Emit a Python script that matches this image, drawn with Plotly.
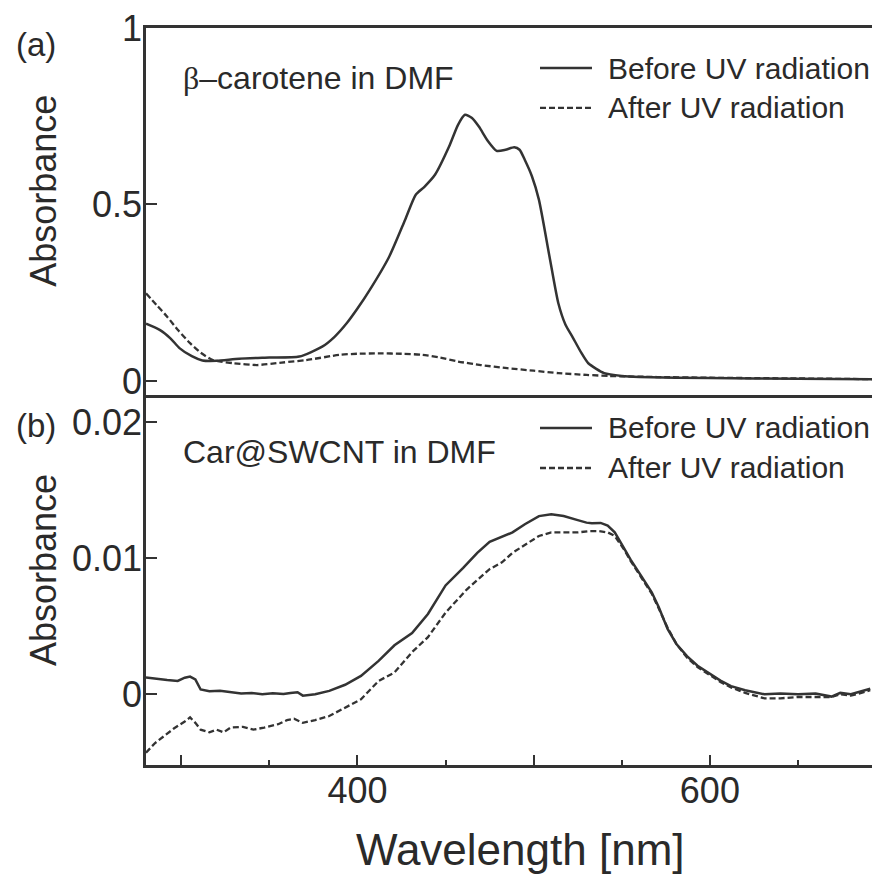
import plotly.graph_objects as go
from plotly.subplots import make_subplots

# ---- Panel (a): beta-carotene in DMF ----
a_before_nm = [280, 288, 294, 299, 306, 312, 320, 333, 350, 367, 380, 387, 394, 400, 407, 418, 427, 433, 438, 444,
               452, 457, 461, 465, 469, 474, 479, 484, 489, 492, 495, 499, 503, 509, 514, 518, 522, 527, 531, 540,
               550, 560, 600, 650, 692]
a_before_abs = [0.162, 0.144, 0.12, 0.093, 0.07, 0.058, 0.057, 0.063, 0.066, 0.069, 0.097, 0.125, 0.164, 0.205, 0.258,
                0.352, 0.456, 0.527, 0.55, 0.584, 0.664, 0.725, 0.754, 0.745, 0.72, 0.68, 0.652, 0.655, 0.662, 0.655,
                0.626, 0.58, 0.513, 0.352, 0.22, 0.16, 0.125, 0.08, 0.05, 0.022, 0.014, 0.011, 0.008, 0.006, 0.005]

a_after_nm = [280, 286, 292, 298, 305, 311, 318, 330, 343, 357, 371, 390, 400, 413, 425, 437, 447, 457, 470, 485,
              500, 514, 530, 543, 570, 600, 650, 692]
a_after_abs = [0.248, 0.215, 0.182, 0.145, 0.107, 0.08, 0.059, 0.05, 0.045, 0.052, 0.059, 0.074, 0.077, 0.078, 0.077,
               0.074, 0.066, 0.055, 0.045, 0.036, 0.029, 0.022, 0.017, 0.014, 0.011, 0.009, 0.007, 0.005]

# ---- Panel (b): Car@SWCNT in DMF ----
b_before_nm = [280, 286, 292, 298, 302, 305, 308, 311, 316, 322, 328, 334, 340, 346, 352, 358, 362, 366, 369, 376,
               384, 393, 402, 412, 421, 431, 440, 450, 460, 468, 475, 481, 488, 495, 503, 510, 517, 525, 530, 533,
               538, 542, 546, 551, 555, 561, 567, 571, 576, 581, 587, 593, 600, 606, 612, 620, 631, 640, 650, 660,
               669, 674, 680, 686, 691]
b_before_abs = [0.00123, 0.00112, 0.00105, 0.00098, 0.00122, 0.0013, 0.0011, 0.00035, 0.00022, 0.00025, 0.00017,
                0.00005, 0.0001, 0.0, 0.00008, 0.00002, 0.0001, 0.00015, -0.0001, 0.0, 0.00025, 0.0007, 0.00135,
                0.00245, 0.0036, 0.0045, 0.0059, 0.008, 0.0093, 0.0104, 0.0112, 0.0115, 0.0119, 0.0125, 0.0131,
                0.01324, 0.0131, 0.0128, 0.01262, 0.01257, 0.0126, 0.0124, 0.0119, 0.0108, 0.0099, 0.0087, 0.0075,
                0.0064, 0.0048, 0.0037, 0.0028, 0.0021, 0.0015, 0.001, 0.0006, 0.0003, 0.0, 0.00005, 0.0, 0.00005,
                -0.00017, 0.0001, 0.0, 0.0002, 0.0004]

b_after_nm = [280, 285, 290, 296, 302, 305, 308, 311, 316, 320, 324, 328, 335, 341, 347, 355, 360, 364, 369, 376,
              384, 393, 402, 412, 421, 431, 440, 450, 462, 475, 482, 488, 495, 503, 510, 516, 525, 532, 537, 542,
              546, 551, 555, 561, 567, 571, 576, 581, 587, 593, 600, 606, 612, 620, 631, 640, 650, 660, 669, 674,
              680, 686, 691]
b_after_abs = [-0.0043, -0.0036, -0.0031, -0.0025, -0.002, -0.0017, -0.0021, -0.0026, -0.0028, -0.0026, -0.0028,
               -0.00245, -0.0024, -0.0026, -0.00245, -0.0022, -0.0019, -0.0018, -0.0021, -0.0019, -0.0016, -0.001,
               -0.00037, 0.00098, 0.0016, 0.0031, 0.0042, 0.006, 0.0077, 0.0092, 0.0097, 0.0104, 0.011, 0.01164,
               0.0119, 0.0119, 0.0119, 0.012, 0.012, 0.0119, 0.01164, 0.0107, 0.0098, 0.0086, 0.0074, 0.0063, 0.0049,
               0.0037, 0.0027, 0.002, 0.0014, 0.0009, 0.0005, 0.0001, -0.0003, -0.0003, -0.0002, -0.0002, -0.0002,
               0.0, -0.0001, 0.0001, 0.0003]

x_tickvals = [300, 400, 500, 600]
x_ticktext = ["", "400", "", "600"]
x_minor_vals = [350, 450, 550, 650]
a_tickvals = [0, 0.5, 1]
a_ticktext = ["0", "0.5", "1"]
b_tickvals = [0, 0.01, 0.02]
b_ticktext = ["0", "0.01", "0.02"]

LINE = "#333333"
TXT = "#2a2a2a"
FONT = "Liberation Sans, Arial, sans-serif"
DASH = "6px,3px"

fig = make_subplots(rows=2, cols=1, shared_xaxes=True, vertical_spacing=0.0,
                    row_heights=[0.498, 0.502])

fig.add_trace(go.Scatter(x=a_before_nm, y=a_before_abs, mode="lines",
                         line=dict(color=LINE, width=2.5, shape="spline", smoothing=0.6),
                         showlegend=False), row=1, col=1)
fig.add_trace(go.Scatter(x=a_after_nm, y=a_after_abs, mode="lines",
                         line=dict(color=LINE, width=2.3, dash=DASH, shape="spline", smoothing=0.6),
                         showlegend=False), row=1, col=1)
fig.add_trace(go.Scatter(x=b_before_nm, y=b_before_abs, mode="lines", line=dict(color=LINE, width=2.5),
                         showlegend=False), row=2, col=1)
fig.add_trace(go.Scatter(x=b_after_nm, y=b_after_abs, mode="lines", line=dict(color=LINE, width=2.3, dash=DASH),
                         showlegend=False), row=2, col=1)

xcommon = dict(range=[280, 692], showline=True, linecolor=LINE, linewidth=2.5,
               showgrid=False, zeroline=False)
fig.update_xaxes(**xcommon, mirror=True, ticks="", showticklabels=False, row=1, col=1)
fig.update_xaxes(**xcommon, mirror=False, ticks="inside", ticklen=10, tickwidth=2, tickcolor=LINE,
                 tickvals=x_tickvals, ticktext=x_ticktext,
                 minor=dict(ticks="inside", ticklen=5, tickwidth=2, tickcolor=LINE, tickvals=x_minor_vals),
                 tickfont=dict(size=36, color=TXT, family=FONT), ticklabelstandoff=-8, row=2, col=1)

ycommon = dict(showline=True, linecolor=LINE, linewidth=2.5, mirror=False, showgrid=False, zeroline=False,
               ticks="inside", ticklen=11, tickwidth=2, tickcolor=LINE, ticklabelstandoff=-6,
               tickfont=dict(size=36, color=TXT, family=FONT))
fig.update_yaxes(**ycommon, range=[-0.04, 1.0], tickvals=a_tickvals, ticktext=a_ticktext, row=1, col=1)
fig.update_yaxes(**ycommon, range=[-0.0052, 0.022], tickvals=b_tickvals, ticktext=b_ticktext, row=2, col=1)

for (txt, yy) in [("(a)", 0.977), ("(b)", 0.461)]:
    fig.add_annotation(text=txt, x=-0.151, y=yy, xref="paper", yref="paper", showarrow=False,
                       xanchor="center", yanchor="middle", font=dict(size=33, color=TXT, family=FONT))

fig.add_annotation(text="<span style='font-family:Liberation Serif'>β</span>–carotene in DMF",
                   x=0.048, y=0.932, xref="paper", yref="paper", showarrow=False,
                   xanchor="left", yanchor="middle", font=dict(size=32, color=TXT, family=FONT))
fig.add_annotation(text="Car@SWCNT in DMF", x=0.048, y=0.4247, xref="paper", yref="paper", showarrow=False,
                   xanchor="left", yanchor="middle", font=dict(size=32, color=TXT, family=FONT))

for ytxt in [0.779, 0.2646]:
    fig.add_annotation(text="Absorbance", x=-0.1405, y=ytxt, xref="paper", yref="paper", showarrow=False,
                       textangle=-90, xanchor="center", yanchor="middle",
                       font=dict(size=36, color=TXT, family=FONT))

fig.add_annotation(text="Wavelength [nm]", x=0.5165, y=-0.1153, xref="paper", yref="paper", showarrow=False,
                   xanchor="center", yanchor="middle", font=dict(size=44, color=TXT, family=FONT))

# manual legends
legend_rows = [
    (0.9457, "Before UV radiation", None),
    (0.8915, "After UV radiation", DASH),
    (0.4573, "Before UV radiation", None),
    (0.4030, "After UV radiation", DASH),
]
for (yy, label, dash) in legend_rows:
    fig.add_shape(type="line", xref="paper", yref="paper", x0=0.5427, x1=0.6143, y0=yy, y1=yy,
                  line=dict(color=LINE, width=2.5 if dash is None else 2.3, dash=dash if dash else "solid"))
    fig.add_annotation(text=label, x=0.6336, y=yy, xref="paper", yref="paper", showarrow=False,
                       xanchor="left", yanchor="middle", font=dict(size=30, color=TXT, family=FONT))

fig.update_layout(width=872, height=878, margin=dict(l=146, r=0, t=28, b=113),
                  paper_bgcolor="white", plot_bgcolor="white", showlegend=False)

fig.write_html("out.html")
